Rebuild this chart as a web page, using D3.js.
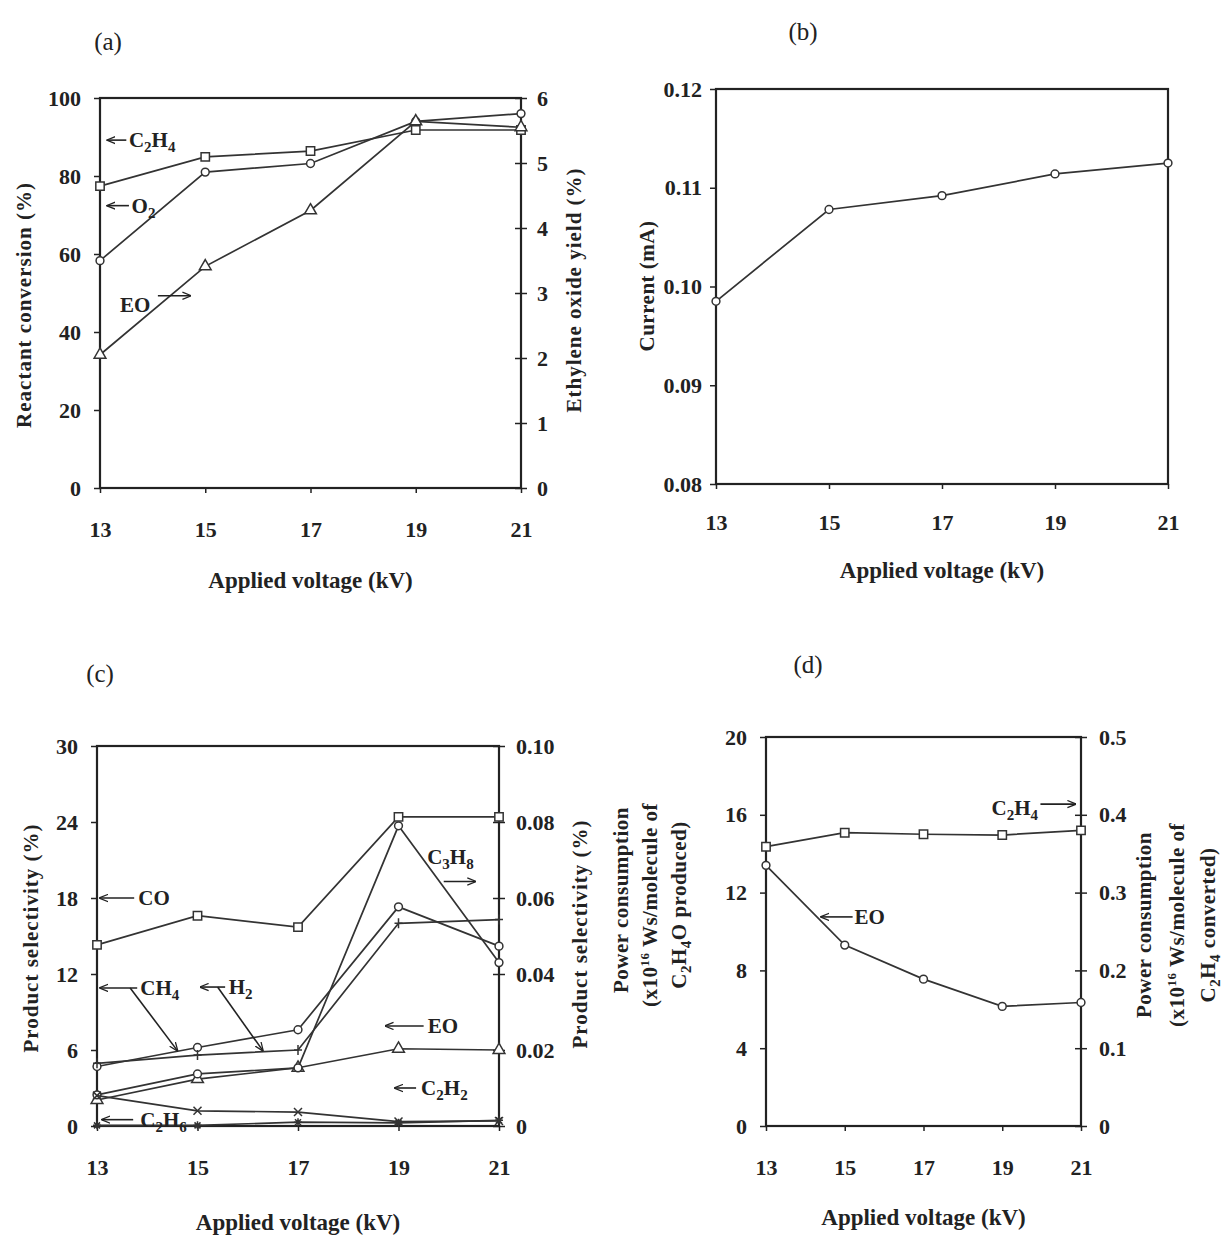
<!DOCTYPE html>
<html lang="en">
<head>
  <meta charset="UTF-8">
  <title>Effect of applied voltage</title>
  <script src="https://d3js.org/d3.v7.min.js"></script>
  <style>
    body { margin: 0; background: #fff; }
    svg text { font-family: "Liberation Serif", "Times New Roman", serif; fill: #222; }
    .tick text { font-size: 22px; font-weight: bold; }
    .domain { display: none; }
    .tick line { stroke: #222; stroke-width: 1.5; }
    .frame { fill: none; stroke: #222; stroke-width: 2.2; }
    .series { fill: none; stroke: #333; stroke-width: 1.7; }
    .title { font-size: 21px; font-weight: bold; }
    .xtitle { font-size: 23px; font-weight: bold; }
    .tag { font-size: 25px; }
    .note { font-size: 21px; font-weight: bold; }
    .arrow { stroke: #222; stroke-width: 1.6; fill: none; }
  </style>
</head>
<body>
<div id="chart"></div>
<script>
// applied voltage (kV)
const voltage = [13, 15, 17, 19, 21];

// (a) reactant conversion (%) and ethylene oxide yield (%)
const convC2H4 = [77.4, 84.9, 86.4, 91.8, 91.8];
const convO2 = [58.3, 81.0, 83.2, 94.0, 96.0];
const yieldEO = [2.05, 3.41, 4.27, 5.64, 5.55];

// (b) current (mA)
const currentMA = [0.0985, 0.1078, 0.1092, 0.1114, 0.1125];

// (c) product selectivity (%), C3H8 on the right axis
const selCO = [14.3, 16.6, 15.7, 24.4, 24.4];
const selH2 = [4.7, 6.2, 7.6, 17.3, 14.2];
const selCH4 = [4.95, 5.6, 6.0, 16.0, 16.3];
const selEO = [2.05, 3.7, 4.6, 6.1, 6.0];
const selC2H2 = [2.4, 1.2, 1.1, 0.35, 0.4];
const selC2H6 = [0.05, 0.05, 0.3, 0.25, 0.45];
const selC3H8 = [0.0082, 0.0137, 0.0153, 0.079, 0.043];

// (d) power consumption (x10^16 Ws/molecule)
const powerEO = [13.4, 9.3, 7.55, 6.15, 6.35];
const powerC2H4 = [0.359, 0.377, 0.375, 0.374, 0.380];

// tick values
const ticksA = [0, 20, 40, 60, 80, 100];
const ticksA2 = [0, 1, 2, 3, 4, 5, 6];
const ticksB = [0.08, 0.09, 0.10, 0.11, 0.12];
const ticksC = [0, 6, 12, 18, 24, 30];
const ticksC2 = [0, 0.02, 0.04, 0.06, 0.08, 0.10];
const ticksD = [0, 4, 8, 12, 16, 20];
const ticksD2 = [0, 0.1, 0.2, 0.3, 0.4, 0.5];

const svg = d3.select("#chart").append("svg")
  .attr("width", 1230).attr("height", 1237);

svg.append("defs").append("marker")
  .attr("id", "head")
  .attr("viewBox", "0 -5 10 10")
  .attr("refX", 9).attr("refY", 0)
  .attr("markerWidth", 9).attr("markerHeight", 9)
  .attr("markerUnits", "userSpaceOnUse")
  .attr("orient", "auto")
  .append("path")
  .attr("d", "M0,-4L10,0L0,4")
  .attr("fill", "none").attr("stroke", "#222").attr("stroke-width", 1.4);

// marker shapes
const shapes = {
  square: d3.symbol().type(d3.symbolSquare).size(70)(),
  circle: d3.symbol().type(d3.symbolCircle).size(48)(),
  triangle: d3.symbol().type(d3.symbolTriangle).size(60)(),
  plus: "M-4,0H4M0,-5V5",
  cross: "M-4,-4L4,4M-4,4L4,-4",
  star: "M-4,0H4M0,-4V4M-3,-3L3,3M-3,3L3,-3"
};

// chemical formula: digits become subscripts
function chem(sel, str) {
  let sub = false;
  for (const ch of str) {
    const isDigit = /[0-9]/.test(ch);
    const t = sel.append("tspan").text(ch);
    if (isDigit && !sub) { t.attr("dy", 5).style("font-size", "15px"); sub = true; }
    else if (isDigit) { t.style("font-size", "15px"); }
    else if (sub) { t.attr("dy", -5); sub = false; }
  }
}

function fmtTick(v, digits) {
  return v === 0 ? "0" : d3.format("." + digits + "f")(v);
}

function panel(cfg) {
  const g = svg.append("g");
  const x = d3.scaleLinear().domain([13, 21]).range([cfg.left, cfg.right]);
  const y = d3.scaleLinear().domain(cfg.yDomain).range([cfg.bottom, cfg.top]);
  const y2 = cfg.y2Domain
    ? d3.scaleLinear().domain(cfg.y2Domain).range([cfg.bottom, cfg.top]) : null;

  // x axis
  g.append("g")
    .attr("transform", `translate(0,${cfg.bottom})`)
    .call(d3.axisBottom(x).tickValues(voltage).tickSize(5).tickPadding(cfg.xPad || 28));

  // left axis
  g.append("g")
    .attr("transform", `translate(${cfg.left},0)`)
    .call(d3.axisLeft(y).tickValues(cfg.yTicks).tickSize(6).tickPadding(cfg.yPad || 13)
      .tickFormat(d => fmtTick(d, cfg.yDigits)));

  // right axis, ticks crossing the frame
  if (y2) {
    const ax = g.append("g")
      .attr("transform", `translate(${cfg.right},0)`)
      .call(d3.axisRight(y2).tickValues(cfg.y2Ticks).tickSize(6).tickPadding(cfg.y2Pad || 10)
        .tickFormat(d => fmtTick(d, cfg.y2Digits)));
    ax.selectAll(".tick line").attr("x1", -6);
  }

  g.append("rect").attr("class", "frame")
    .attr("x", cfg.left).attr("y", cfg.top)
    .attr("width", cfg.right - cfg.left).attr("height", cfg.bottom - cfg.top);

  // series
  cfg.series.forEach(s => {
    const sy = s.right ? y2 : y;
    const pts = voltage.map((v, i) => [x(v), sy(s.values[i])]);
    g.append("path").attr("class", "series").attr("d", d3.line()(pts));
    g.selectAll(null).data(pts).join("path")
      .attr("transform", d => `translate(${d[0]},${d[1]})`)
      .attr("d", shapes[s.shape])
      .attr("fill", s.fill || "#fff")
      .attr("stroke", "#333").attr("stroke-width", 1.5);
  });

  // annotations
  (cfg.arrows || []).forEach(a => {
    g.append("line").attr("class", "arrow")
      .attr("x1", x(a[0])).attr("y1", y(a[1]))
      .attr("x2", x(a[2])).attr("y2", y(a[3]))
      .attr("marker-end", "url(#head)");
  });
  (cfg.notes || []).forEach(n => {
    const t = g.append("text").attr("class", "note")
      .attr("x", x(n.x)).attr("y", y(n.y) + 7)
      .attr("text-anchor", n.anchor || "start");
    chem(t, n.text);
  });

  // titles
  g.append("text").attr("class", "xtitle")
    .attr("x", (cfg.left + cfg.right) / 2).attr("y", cfg.xTitleY)
    .attr("text-anchor", "middle").text("Applied voltage (kV)");
  (cfg.yTitles || []).forEach(tt => {
    const t = g.append("text").attr("class", "title")
      .attr("transform", `translate(${tt.x},${tt.y}) rotate(-90)`)
      .attr("text-anchor", "middle")
      .style("letter-spacing", tt.ls || "0.5px");
    tt.parts.forEach(p => {
      const s = t.append("tspan").text(p.t);
      if (p.sub) s.attr("dy", 5).style("font-size", "15px");
      if (p.sup) s.attr("dy", -8).style("font-size", "13px");
      if (p.back) s.attr("dy", p.back);
    });
  });
  g.append("text").attr("class", "tag")
    .attr("x", cfg.tag[1]).attr("y", cfg.tag[2])
    .attr("text-anchor", "middle").text(cfg.tag[0]);
}

// (a)
panel({
  left: 100, right: 521, top: 98, bottom: 488,
  yDomain: [0, 100], yTicks: ticksA, yDigits: 0,
  y2Domain: [0, 6], y2Ticks: ticksA2, y2Digits: 0,
  series: [
    { values: convC2H4, shape: "square" },
    { values: convO2, shape: "circle" },
    { values: yieldEO, shape: "triangle", right: true }
  ],
  arrows: [
    [13.5, 89.2, 13.14, 89.2],
    [13.55, 72.4, 13.14, 72.4],
    [14.1, 49.3, 14.72, 49.3]
  ],
  notes: [
    { text: "C2H4", x: 13.55, y: 89.2 },
    { text: "O2", x: 13.6, y: 72.4 },
    { text: "EO", x: 13.38, y: 47 }
  ],
  xTitleY: 588,
  yTitles: [
    { x: 31, y: 305, parts: [{ t: "Reactant conversion (%)" }], ls: "1px" },
    { x: 581, y: 290, parts: [{ t: "Ethylene oxide yield (%)" }], ls: "1px" }
  ],
  tag: ["(a)", 108, 50]
});

// (b)
panel({
  left: 716, right: 1168, top: 89, bottom: 484,
  yDomain: [0.08, 0.12], yTicks: ticksB, yDigits: 2, yPad: 8,
  xPad: 25,
  series: [{ values: currentMA, shape: "circle" }],
  xTitleY: 578,
  yTitles: [{ x: 654, y: 286, parts: [{ t: "Current (mA)" }] }],
  tag: ["(b)", 803, 40]
});

// (c)
panel({
  left: 97, right: 499, top: 746, bottom: 1126,
  yDomain: [0, 30], yTicks: ticksC, yDigits: 0,
  y2Domain: [0, 0.1], y2Ticks: ticksC2, y2Digits: 2, y2Pad: 11,
  series: [
    { values: selCO, shape: "square" },
    { values: selH2, shape: "circle" },
    { values: selCH4, shape: "plus" },
    { values: selEO, shape: "triangle" },
    { values: selC3H8, shape: "circle", right: true },
    { values: selC2H2, shape: "cross" },
    { values: selC2H6, shape: "star", fill: "#333" }
  ],
  arrows: [
    [13.74, 18, 13.06, 18],
    [13.8, 10.9, 13.06, 10.9],
    [13.66, 10.9, 14.6, 5.95],
    [15.55, 10.97, 15.06, 10.97],
    [15.4, 10.97, 16.3, 5.95],
    [19.5, 7.9, 18.74, 7.9],
    [19.9, 19.3, 20.53, 19.3],
    [19.35, 3.0, 18.93, 3.0],
    [13.72, 0.5, 13.1, 0.5]
  ],
  notes: [
    { text: "CO", x: 13.82, y: 18 },
    { text: "CH4", x: 13.86, y: 10.9 },
    { text: "H2", x: 15.62, y: 10.97 },
    { text: "EO", x: 19.58, y: 7.9 },
    { text: "C3H8", x: 19.57, y: 21.2 },
    { text: "C2H2", x: 19.45, y: 3.0 },
    { text: "C2H6", x: 13.86, y: 0.5 }
  ],
  xTitleY: 1230,
  yTitles: [
    { x: 38, y: 938, parts: [{ t: "Product selectivity (%)" }], ls: "1px" },
    { x: 587, y: 934, parts: [{ t: "Product selectivity (%)" }], ls: "1px" }
  ],
  tag: ["(c)", 100, 682]
});

// (d)
panel({
  left: 766, right: 1081, top: 737, bottom: 1126,
  yDomain: [0, 20], yTicks: ticksD, yDigits: 0,
  y2Domain: [0, 0.5], y2Ticks: ticksD2, y2Digits: 1, y2Pad: 12,
  series: [
    { values: powerC2H4, shape: "square", right: true },
    { values: powerEO, shape: "circle" }
  ],
  arrows: [
    [15.2, 10.75, 14.4, 10.75],
    [19.97, 16.55, 20.86, 16.55]
  ],
  notes: [
    { text: "EO", x: 15.25, y: 10.75 },
    { text: "C2H4", x: 19.91, y: 16.35, anchor: "end" }
  ],
  xTitleY: 1225,
  yTitles: [
    { x: 628, y: 900, parts: [{ t: "Power consumption" }] },
    { x: 657, y: 905, parts: [{ t: "(x10" }, { t: "16", sup: true }, { t: " Ws/molecule of", back: 8 }] },
    { x: 686, y: 905, parts: [{ t: "C" }, { t: "2", sub: true }, { t: "H", back: -5 }, { t: "4", sub: true }, { t: "O produced)", back: -5 }] },
    { x: 1151, y: 925, parts: [{ t: "Power consumption" }] },
    { x: 1184, y: 925, parts: [{ t: "(x10" }, { t: "16", sup: true }, { t: " Ws/molecule of", back: 8 }] },
    { x: 1215, y: 925, parts: [{ t: "C" }, { t: "2", sub: true }, { t: "H", back: -5 }, { t: "4", sub: true }, { t: "  converted)", back: -5 }] }
  ],
  tag: ["(d)", 808, 673]
});
</script>
</body>
</html>
